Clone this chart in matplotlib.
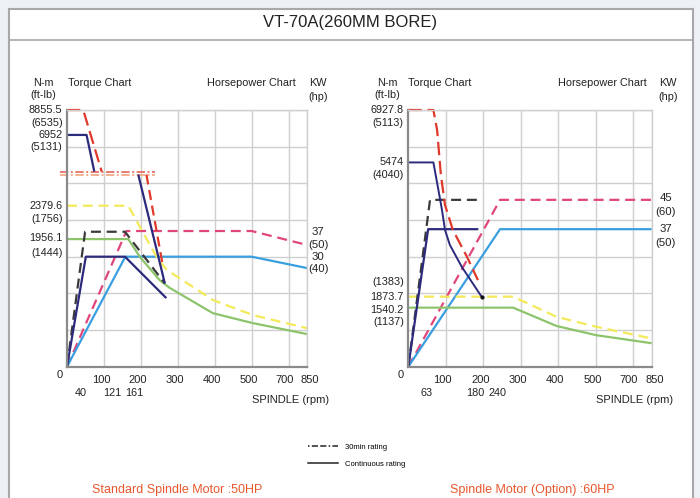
import numpy as np
import matplotlib
matplotlib.use('Agg')
import matplotlib.pyplot as plt
from matplotlib.lines import Line2D
from matplotlib.patches import Rectangle
from matplotlib.transforms import ScaledTranslation

plt.rcParams['font.family'] = ['Liberation Sans', 'DejaVu Sans']

W, H = 700, 498

# ---------------- data (x: spindle rpm, y: chart grid units, 10 per grid = kW) ----
# Left chart: standard spindle motor 50HP
L_red_a_x, L_red_a_y = [0, 44, 94], [70, 70, 53.2]
L_red_b_x, L_red_b_y = [215, 260], [52.4, 27.3]
L_dd_x = [-19, 238]
L_dd_y1, L_dd_y2 = [53.2, 53.2], [52.3, 52.3]
L_navyT_a_x, L_navyT_a_y = [0, 53, 74], [63.2, 63.2, 53.2]
L_navyT_b_x, L_navyT_b_y = [193, 265], [52.4, 22.7]
L_yellow_x = [0, 166, 197, 243, 270, 395, 505, 850]
L_yellow_y = [43.9, 43.9, 38.2, 29.9, 26.4, 18.2, 14.1, 10.5]
L_green_x = [0, 166, 197, 251, 278, 395, 505, 850]
L_green_y = [34.8, 34.8, 30.0, 23.6, 21.5, 14.6, 11.9, 8.9]
L_blackP_x, L_blackP_y = [0, 49, 157, 265], [0, 36.8, 36.8, 22.7]
L_navyP_x, L_navyP_y = [0, 51, 157, 269], [0, 30, 30, 18.7]
L_pink_x, L_pink_y = [0, 161, 500, 850], [0, 37, 37, 33.2]
L_lblue_x, L_lblue_y = [0, 158, 500, 850], [0, 30, 30, 26.9]

# Right chart: optional spindle motor 60HP
R_red_x = [0, 67, 77, 87, 98, 119, 157, 186]
R_red_y = [70, 70, 64.5, 52.3, 44.1, 37.3, 29.9, 23.6]
R_navyT_x = [0, 67, 79, 90, 98, 111, 143, 197]
R_navyT_y = [55.7, 55.7, 49, 42.7, 37.3, 33.2, 27.2, 18.9]
R_blackP_x, R_blackP_y = [0, 58, 183], [0, 45.5, 45.5]
R_navyP_x, R_navyP_y = [0, 53, 187], [0, 37.5, 37.5]
R_pink_x, R_pink_y = [0, 245, 850], [0, 45.5, 45.5]
R_lblue_x, R_lblue_y = [0, 245, 850], [0, 37.5, 37.5]
R_yellow_x, R_yellow_y = [0, 280, 396, 503, 850], [19.1, 19.1, 13.6, 10.9, 7.7]
R_green_x, R_green_y = [0, 280, 396, 503, 850], [16.1, 16.1, 11.1, 8.6, 6.4]

X_TICKS = [100, 200, 300, 400, 500, 700, 850]
X_TICK_LABELS = ['100', '200', '300', '400', '500', '700', '850']

L_torque_labels = [('8855.5', 70), ('(6535)', 66.5), ('6952', 63.2), ('(5131)', 60.0),
                   ('2379.6', 43.9), ('(1756)', 40.3), ('1956.1', 35.0), ('(1444)', 31.1)]
R_torque_labels = [('6927.8', 70), ('(5113)', 66.4), ('5474', 55.7), ('(4040)', 52.3),
                   ('(1383)', 23.2), ('1873.7', 19.1), ('1540.2', 15.5), ('(1137)', 12.3)]
L_power_labels = [('37', 36.8), ('(50)', 33.2), ('30', 30.0), ('(40)', 26.6)]
R_power_labels = [('45', 45.9), ('(60)', 42.3), ('37', 37.5), ('(50)', 33.8)]
L_extra_x = [('40', 36), ('121', 123), ('161', 181)]
R_extra_x = [('63', 49), ('180', 180), ('240', 237)]

# ---------------- colours / styles ----------------
RED = '#e0392c'
NAVY = '#2c2a7c'
BLACK = '#3a3a3a'
PINK = '#e0467c'
LBLUE = '#3a9fe0'
YELLOW = '#f3ea5a'
GREEN = '#8dc46b'
DASH = (0, (4.5, 2.6))
TXT = '#222222'


def fwd(x):
    x = np.asarray(x, float)
    return np.where(x <= 500, x, np.where(x <= 700, 500 + (x - 500) / 2.0, 600 + (x - 700) / 3.0))


def inv(p):
    p = np.asarray(p, float)
    return np.where(p <= 500, p, np.where(p <= 600, 500 + (p - 500) * 2.0, 700 + (p - 600) * 3.0))


def fx(x):
    return x / W


def fy(y):
    return 1 - y / H


fig = plt.figure(figsize=(W / 100, H / 100), dpi=100)
fig.patch.set_facecolor('#edf0f4')
fig.add_artist(Rectangle((fx(9), fy(505)), fx(684), fy(9) - fy(505),
                         transform=fig.transFigure, facecolor='white', edgecolor='#a8a8a8',
                         lw=1.5, zorder=0))
fig.add_artist(Line2D([fx(9), fx(693)], [fy(40.5), fy(40.5)], transform=fig.transFigure,
                      color='#a8a8a8', lw=1.2))
fig.text(fx(350), fy(23), 'VT-70A(260MM BORE)', ha='center', va='center', fontsize=12, color=TXT)


def setup(ax):
    ax.set_xscale('function', functions=(fwd, inv))
    ax.set_xlim(0, 850)
    ax.set_ylim(0, 70)
    ax.set_xticks(X_TICKS)
    ax.set_xticklabels(X_TICK_LABELS, fontsize=8, color=TXT)
    ax.set_yticks(range(10, 71, 10))
    ax.tick_params(axis='both', length=0, pad=6)
    ax.tick_params(axis='y', labelleft=False)
    ax.grid(True, color='#cfcfcf', lw=1.0)
    ax.set_axisbelow(True)
    for s in ('top', 'right'):
        ax.spines[s].set_color('#cfcfcf')
        ax.spines[s].set_linewidth(1.0)
    for s in ('left', 'bottom'):
        ax.spines[s].set_color('#8a8a8a')
        ax.spines[s].set_linewidth(1.6)
    ax.set_facecolor('white')
    labels = ax.get_xticklabels()
    for i, lab in enumerate(labels):
        dx = -3 if i < len(labels) - 1 else 3
        if i == len(labels) - 2:
            dx = -4
        lab.set_transform(lab.get_transform() + ScaledTranslation(dx / 100, 0, fig.dpi_scale_trans))


def side_labels(ax, torque_labels, power_labels, extra_x, pw_dx):
    for t, y in torque_labels:
        ax.annotate(t, xy=(0, y), xycoords=('axes fraction', 'data'), xytext=(-3.2, 0),
                    textcoords='offset points', ha='right', va='center', fontsize=7.8, color=TXT,
                    annotation_clip=False)
    for t, y in power_labels:
        ax.annotate(t, xy=(1, y), xycoords=('axes fraction', 'data'), xytext=(pw_dx, 0),
                    textcoords='offset points', ha='center', va='center', fontsize=8.2, color=TXT,
                    annotation_clip=False)
    for t, x in extra_x:
        ax.annotate(t, xy=(x, 0), xycoords=('data', 'axes fraction'), xytext=(0, -19),
                    textcoords='offset points', ha='center', va='center', fontsize=7.8, color=TXT,
                    annotation_clip=False)
    ax.annotate('0', xy=(0, 0), xycoords='axes fraction', xytext=(-5.5, -6),
                textcoords='offset points', ha='center', va='center', fontsize=8, color=TXT,
                annotation_clip=False)
    ax.annotate('SPINDLE (rpm)', xy=(1, 0), xycoords='axes fraction', xytext=(-12, -24),
                textcoords='offset points', ha='center', va='center', fontsize=8, color=TXT,
                annotation_clip=False)


def line(ax, x, y, color, ls='-', lw=1.6):
    ax.plot(x, y, color=color, ls=ls, lw=lw, clip_on=False, solid_capstyle='butt')


# ---------------- left chart ----------------
axL = fig.add_axes([fx(67), fy(366.7), (307 - 67) / W, 256.7 / H])
setup(axL)
line(axL, L_pink_x, L_pink_y, PINK, DASH)
line(axL, L_lblue_x, L_lblue_y, LBLUE)
line(axL, L_green_x, L_green_y, GREEN)
line(axL, L_yellow_x, L_yellow_y, YELLOW, DASH)
line(axL, L_blackP_x, L_blackP_y, BLACK, DASH)
line(axL, L_navyP_x, L_navyP_y, NAVY)
line(axL, L_dd_x, L_dd_y1, '#e5675a', (0, (5, 1.5, 1.2, 1.5)), 1.2)
line(axL, L_dd_x, L_dd_y2, '#f2a27e', (0, (5, 1.5, 1.2, 1.5)), 1.2)
line(axL, L_navyT_a_x, L_navyT_a_y, NAVY)
line(axL, L_navyT_b_x, L_navyT_b_y, NAVY)
line(axL, L_red_a_x, L_red_a_y, RED, (0, (6, 2.6)))
line(axL, L_red_b_x, L_red_b_y, RED, DASH)
side_labels(axL, L_torque_labels, L_power_labels, L_extra_x, 8)

# ---------------- right chart ----------------
axR = fig.add_axes([fx(408.3), fy(366.7), (651.7 - 408.3) / W, 256.7 / H])
setup(axR)
line(axR, R_pink_x, R_pink_y, PINK, DASH)
line(axR, R_lblue_x, R_lblue_y, LBLUE)
line(axR, R_green_x, R_green_y, GREEN)
line(axR, R_yellow_x, R_yellow_y, YELLOW, DASH)
line(axR, R_blackP_x, R_blackP_y, BLACK, DASH)
line(axR, R_navyP_x, R_navyP_y, NAVY)
line(axR, R_red_x, R_red_y, RED, (0, (6, 2.6)))
line(axR, R_navyT_x, R_navyT_y, NAVY, '-', 1.4)
axR.plot(R_navyT_x[-1:], R_navyT_y[-1:], 'o', color='#111111', ms=2)
side_labels(axR, R_torque_labels, R_power_labels, R_extra_x, 10)

# ---------------- headers ----------------
hdr = dict(fontsize=7.8, color=TXT, va='center')
for x0, xt, xr, xkw in ((43.5, 68, 296, 318), (387, 408.3, 646.7, 668)):
    fig.text(fx(x0), fy(83.3), 'N-m', ha='center', **hdr)
    fig.text(fx(x0), fy(94.5), '(ft-lb)', ha='center', **hdr)
    fig.text(fx(xt), fy(83.3), 'Torque Chart', ha='left', **hdr)
    fig.text(fx(xr), fy(83.3), 'Horsepower Chart', ha='right', **hdr)
    fig.text(fx(xkw), fy(83.3), 'KW', ha='center', **hdr)
    fig.text(fx(xkw), fy(97), '(hp)', ha='center', **hdr)

# ---------------- legend ----------------
handles = [Line2D([], [], color=TXT, lw=1.1, ls=(0, (1, 1.5, 4, 1.5, 4, 1.5))),
           Line2D([], [], color=TXT, lw=1.1)]
fig.legend(handles, ['30min rating', 'Continuous rating'], loc='upper left',
           bbox_to_anchor=(fx(303), fy(438)), frameon=False, fontsize=5.5,
           handlelength=3.9, labelspacing=1.3, handletextpad=0.9, borderpad=0.2)

fig.text(fx(177), fy(490), 'Standard Spindle Motor :50HP', ha='center', va='center',
         fontsize=9, color='#e8582e')
fig.text(fx(532), fy(490), 'Spindle Motor (Option) :60HP', ha='center', va='center',
         fontsize=9, color='#e8582e')

fig.savefig('out.png', dpi=100, facecolor=fig.get_facecolor())
